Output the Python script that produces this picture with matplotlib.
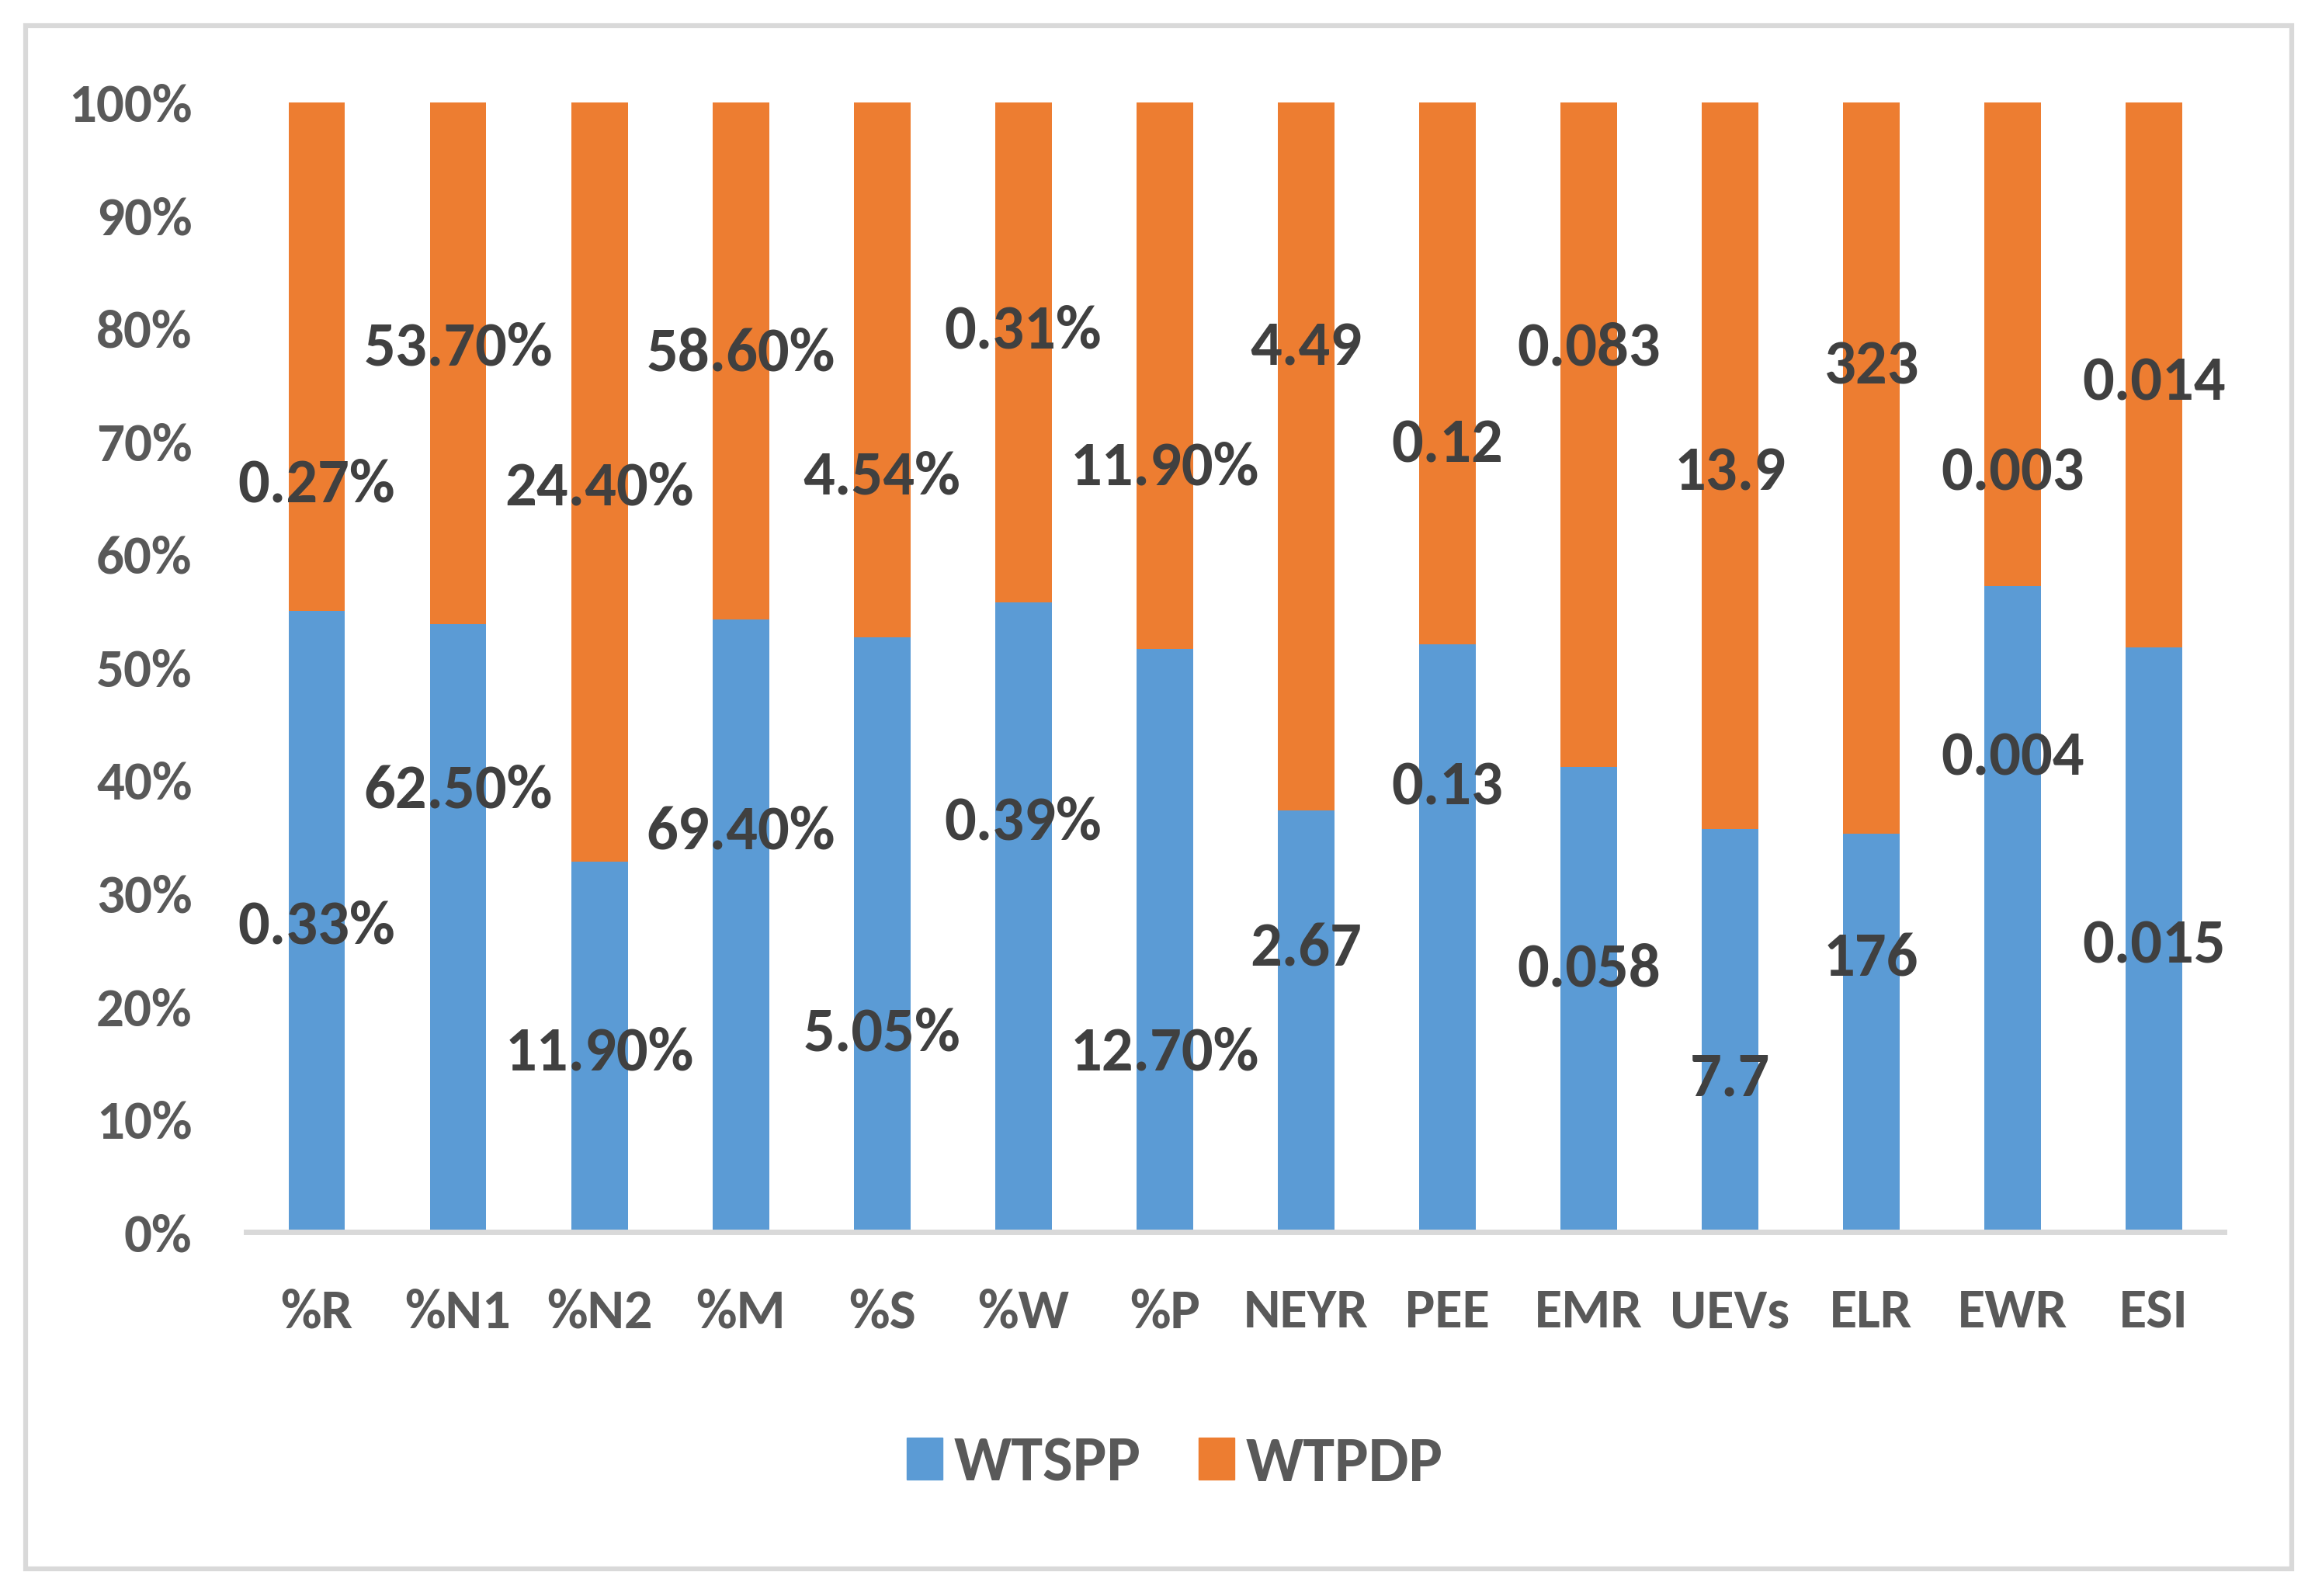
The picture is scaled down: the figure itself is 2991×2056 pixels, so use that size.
import numpy as np
import matplotlib
matplotlib.use("Agg")
import matplotlib.pyplot as plt
from matplotlib import font_manager
from matplotlib.patches import Rectangle, Patch

# =========================
# DATA
# =========================
categories = ["%R", "%N1", "%N2", "%M", "%S", "%W", "%P",
              "NEYR", "PEE", "EMR", "UEVs", "ELR", "EWR", "ESI"]

wtspp = [0.33, 62.50, 11.90, 69.40, 5.05, 0.39, 12.70,
         2.67, 0.13, 0.058, 7.7, 176, 0.004, 0.015]
wtpdp = [0.27, 53.70, 24.40, 58.60, 4.54, 0.31, 11.90,
         4.49, 0.12, 0.083, 13.9, 323, 0.003, 0.014]

wtspp_labels = ["0.33%", "62.50%", "11.90%", "69.40%", "5.05%", "0.39%", "12.70%",
                "2.67", "0.13", "0.058", "7.7", "176", "0.004", "0.015"]
wtpdp_labels = ["0.27%", "53.70%", "24.40%", "58.60%", "4.54%", "0.31%", "11.90%",
                "4.49", "0.12", "0.083", "13.9", "323", "0.003", "0.014"]

# where the data labels sit (in % of the axis)
wtspp_label_y = [27.5, 39.5, 16.3, 35.9, 18.0, 36.7, 16.3,
                 25.5, 39.8, 23.7, 14.0, 24.6, 42.4, 25.8]
wtpdp_label_y = [66.6, 78.7, 66.3, 78.2, 67.3, 80.2, 68.1,
                 78.7, 70.1, 78.7, 67.6, 77.0, 67.6, 75.6]

series_names = ["WTSPP", "WTPDP"]
yticks = [0, 10, 20, 30, 40, 50, 60, 70, 80, 90, 100]

# =========================
# STYLE
# =========================
BLUE = "#5B9BD5"
ORANGE = "#ED7D31"
AXIS_GRAY = "#D9D9D9"
TICK_COLOR = "#595959"
LABEL_COLOR = "#404040"

# Calibri-like narrow font if we have one, else Lato
installed = {f.name for f in font_manager.fontManager.ttflist}
FONT = "Lato"
for cand in ["Carlito", "Liberation Sans Narrow"]:
    if cand in installed:
        FONT = cand
        break
plt.rcParams["font.family"] = [FONT, "DejaVu Sans"]
plt.rcParams["font.weight"] = "bold"

fig = plt.figure(figsize=(29.91, 20.56), dpi=100)
ax = fig.add_axes([0.106, 0.228, 0.852, 0.708])

a = np.array(wtspp, dtype=float)
b = np.array(wtpdp, dtype=float)
total = a + b
pa = a / total * 100
pb = b / total * 100

x = np.arange(len(categories))
ax.bar(x, pa, width=0.4, color=BLUE, label=series_names[0])
ax.bar(x, pb, width=0.4, bottom=pa, color=ORANGE, label=series_names[1])

for i in range(len(categories)):
    ax.text(x[i], wtspp_label_y[i], wtspp_labels[i], ha="center", va="center_baseline",
            fontsize=58, fontweight="bold", color=LABEL_COLOR)
    ax.text(x[i], wtpdp_label_y[i], wtpdp_labels[i], ha="center", va="center_baseline",
            fontsize=58, fontweight="bold", color=LABEL_COLOR)

ax.set_xlim(-0.5, len(categories) - 0.5)
ax.set_ylim(0, 100)
ax.set_yticks(yticks)
ax.set_yticklabels([f"{t}%" for t in yticks])
ax.set_xticks(x)
ax.set_xticklabels(categories)

for s in ["top", "right", "left"]:
    ax.spines[s].set_visible(False)
ax.spines["bottom"].set_color(AXIS_GRAY)
ax.spines["bottom"].set_linewidth(5)

ax.tick_params(axis="y", length=0, pad=50, labelsize=51, labelcolor=TICK_COLOR)
ax.tick_params(axis="x", length=0, pad=52, labelsize=52, labelcolor=TICK_COLOR)
for lbl in ax.get_xticklabels() + ax.get_yticklabels():
    lbl.set_fontweight("bold")

# legend
handles = [Patch(color=BLUE), Patch(color=ORANGE)]
fig.legend(handles, series_names, loc="center", bbox_to_anchor=(0.506, 0.083),
           ncol=2, frameon=False, fontsize=59, handlelength=0.56, handleheight=0.64,
           handletextpad=0.18, columnspacing=0.9, labelcolor=TICK_COLOR)

# outer chart border
fig.patches.append(Rectangle((0.011, 0.017), 0.976, 0.967, transform=fig.transFigure,
                             fill=False, edgecolor=AXIS_GRAY, linewidth=4.5))

fig.savefig("out.png", dpi=100, facecolor="white")
